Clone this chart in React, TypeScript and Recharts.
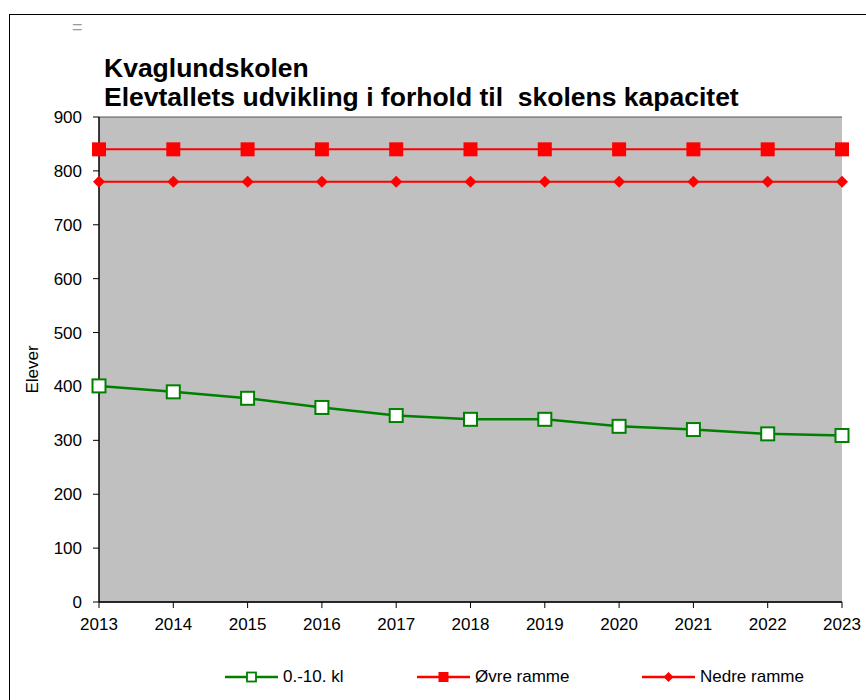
import { LineChart, Line, XAxis, YAxis, CartesianGrid, Legend } from "recharts";

const years = ["2013", "2014", "2015", "2016", "2017", "2018", "2019", "2020", "2021", "2022", "2023"];
const elever = [401, 390, 378, 361, 346, 339, 339, 326, 320, 312, 309];
const ovreRamme = [840, 840, 840, 840, 840, 840, 840, 840, 840, 840, 840];
const nedreRamme = [780, 780, 780, 780, 780, 780, 780, 780, 780, 780, 780];
const yTicks = [0, 100, 200, 300, 400, 500, 600, 700, 800, 900];

const GREEN = "#008000";
const RED = "#FF0000";
const FONT = "'Liberation Sans', Arial, sans-serif";

const data = years.map((year, i) => ({
  year,
  elever: elever[i],
  ovre: ovreRamme[i],
  nedre: nedreRamme[i],
}));

function OpenSquare(props: any) {
  const { cx, cy } = props;
  if (cx == null || cy == null) return null;
  return <rect x={cx - 6.5} y={cy - 6.5} width={13} height={13} fill="#FFFFFF" stroke={GREEN} strokeWidth={2} />;
}

function RedSquare(props: any) {
  const { cx, cy } = props;
  if (cx == null || cy == null) return null;
  return <rect x={cx - 7} y={cy - 7} width={14} height={14} fill={RED} />;
}

function RedDiamond(props: any) {
  const { cx, cy } = props;
  if (cx == null || cy == null) return null;
  return <polygon points={`${cx},${cy - 6} ${cx + 6},${cy} ${cx},${cy + 6} ${cx - 6},${cy}`} fill={RED} />;
}

// legend slots sit at fixed x positions like in the original sheet
const legendItems = [
  { label: "0.-10. kl", color: GREEN, marker: "open", left: 225 },
  { label: "Øvre ramme", color: RED, marker: "square", left: 417 },
  { label: "Nedre ramme", color: RED, marker: "diamond", left: 642 },
];

function LegendContent() {
  return (
    <div style={{ position: "relative", height: 20, fontFamily: FONT, fontSize: 17 }}>
      {legendItems.map((item) => (
        <div key={item.label} style={{ position: "absolute", left: item.left, top: 0, display: "flex", alignItems: "center", whiteSpace: "nowrap" }}>
          <svg width={53} height={14}>
            <line x1={0} y1={7} x2={53} y2={7} stroke={item.color} strokeWidth={2.5} />
            {item.marker === "open" && <rect x={22} y={2.5} width={9} height={9} fill="#FFFFFF" stroke={item.color} strokeWidth={1.8} />}
            {item.marker === "square" && <rect x={21.5} y={2} width={10} height={10} fill={item.color} />}
            {item.marker === "diamond" && <polygon points="26.5,2 31.5,7 26.5,12 21.5,7" fill={item.color} />}
          </svg>
          <span style={{ marginLeft: 5, color: "#000" }}>{item.label}</span>
        </div>
      ))}
    </div>
  );
}

export default function App() {
  return (
    <div style={{ position: "absolute", left: 0, top: 0, width: 866, height: 700, overflow: "hidden", background: "#fff" }}>
      <div style={{ position: "absolute", left: 9, top: 14, width: 900, height: 720, border: "1px solid #000" }} />
      <div style={{ position: "absolute", left: 72, top: 17, fontFamily: FONT, fontSize: 18, color: "#999" }}>=</div>
      <div
        style={{
          position: "absolute",
          left: 104,
          top: 54,
          fontFamily: FONT,
          fontWeight: "bold",
          fontSize: 26.5,
          lineHeight: "29px",
          whiteSpace: "pre",
          color: "#000",
        }}
      >
        {"Kvaglundskolen\nElevtallets udvikling i forhold til  skolens kapacitet"}
      </div>
      <div style={{ position: "absolute", left: 0, top: 0 }}>
        <LineChart width={866} height={700} data={data} margin={{ top: 117, right: 24, bottom: 68, left: 39 }}>
          <CartesianGrid vertical={false} stroke="#555555" fill="#C0C0C0" />
          <XAxis
            dataKey="year"
            height={30}
            tickSize={6}
            tickMargin={10}
            axisLine={{ stroke: "#000", strokeWidth: 1.5 }}
            tickLine={{ stroke: "#000" }}
            tick={{ fontSize: 17, fill: "#000", fontFamily: FONT }}
          />
          <YAxis
            yAxisId="left"
            domain={[0, 900]}
            ticks={yTicks}
            width={60}
            tickSize={6}
            tickMargin={11}
            axisLine={{ stroke: "#000", strokeWidth: 1.5 }}
            tickLine={{ stroke: "#000" }}
            tick={{ fontSize: 17, fill: "#000", fontFamily: FONT }}
            label={{ value: "Elever", angle: -90, position: "insideLeft", offset: -7, dy: 10, style: { fontSize: 17, fill: "#000", fontFamily: FONT, textAnchor: "middle" } }}
          />
          <YAxis
            yAxisId="right"
            orientation="right"
            domain={[0, 900]}
            width={0}
            tick={false}
            tickLine={false}
            axisLine={{ stroke: "#888888", strokeWidth: 2 }}
          />
          <Legend verticalAlign="middle" align="center" layout="horizontal" content={LegendContent} wrapperStyle={{ top: 667, left: 0, width: 866 }} />
          <Line yAxisId="left" dataKey="ovre" name="Øvre ramme" stroke={RED} strokeWidth={2} dot={RedSquare} isAnimationActive={false} />
          <Line yAxisId="left" dataKey="nedre" name="Nedre ramme" stroke={RED} strokeWidth={2} dot={RedDiamond} isAnimationActive={false} />
          <Line yAxisId="left" dataKey="elever" name="0.-10. kl" stroke={GREEN} strokeWidth={2.5} dot={OpenSquare} isAnimationActive={false} />
        </LineChart>
      </div>
    </div>
  );
}
